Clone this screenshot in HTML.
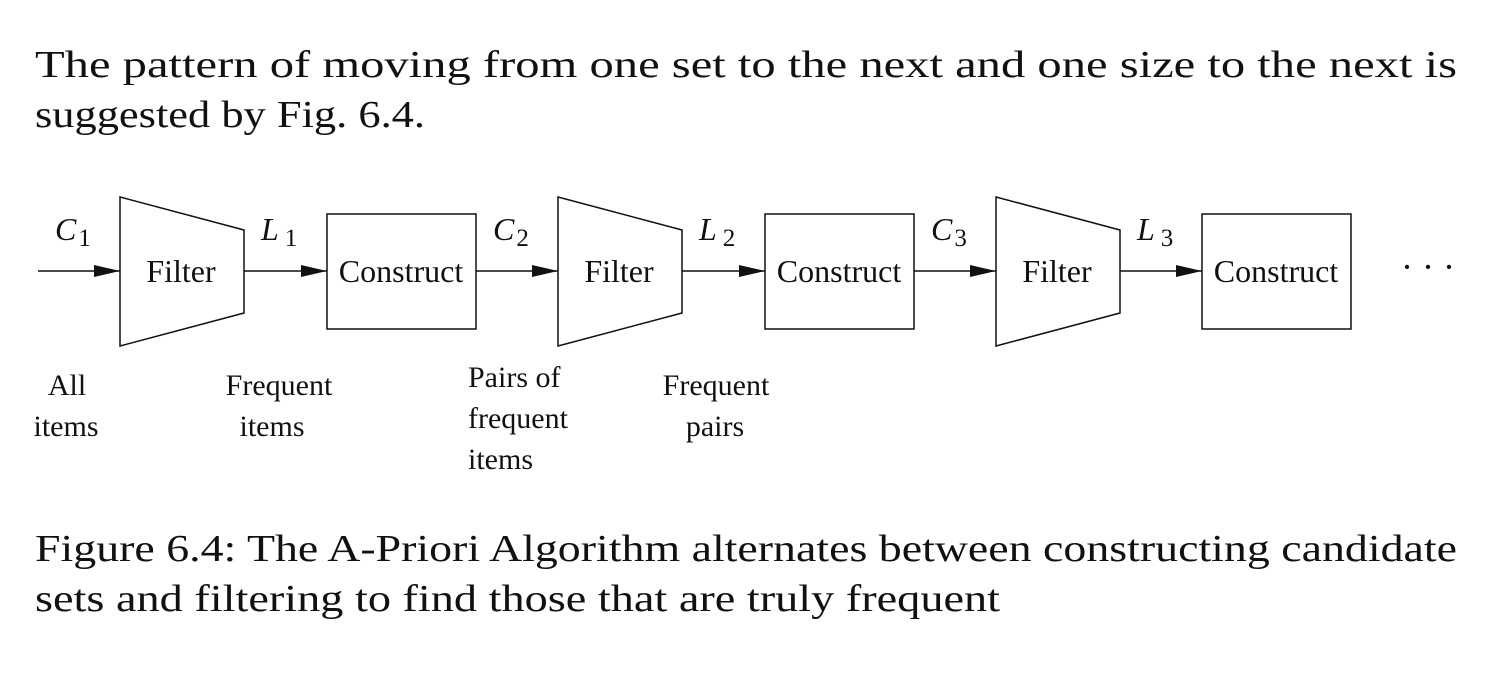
<!DOCTYPE html>
<html><head><meta charset="utf-8"><style>
html,body{margin:0;padding:0;background:#fff;}
svg{display:block;}
.t{font-family:"Liberation Serif",serif;fill:#111;}
</style></head><body>
<svg width="1503" height="682" viewBox="0 0 1503 682">
<defs><marker id="ah" markerWidth="26" markerHeight="12" refX="26" refY="6" orient="auto" markerUnits="userSpaceOnUse"><path d="M0,0 L26,6 L0,12 Z" fill="#111"/></marker></defs>
<text class="t" x="35" y="77" font-size="38" textLength="1422" lengthAdjust="spacingAndGlyphs">The pattern of moving from one set to the next and one size to the next is</text>
<text class="t" x="35" y="127" font-size="38" textLength="390" lengthAdjust="spacingAndGlyphs">suggested by Fig. 6.4.</text>

<g stroke="#111" stroke-width="1.5" fill="none">
<line x1="38" y1="271" x2="120" y2="271" marker-end="url(#ah)"/>
<polygon points="120,197 244,230 244,313 120,346"/>
<line x1="244" y1="271" x2="327" y2="271" marker-end="url(#ah)"/>
<rect x="327" y="214" width="149" height="115"/>
<line x1="476" y1="271" x2="558" y2="271" marker-end="url(#ah)"/>
<polygon points="558,197 682,230 682,313 558,346"/>
<line x1="682" y1="271" x2="765" y2="271" marker-end="url(#ah)"/>
<rect x="765" y="214" width="149" height="115"/>
<line x1="914" y1="271" x2="996" y2="271" marker-end="url(#ah)"/>
<polygon points="996,197 1120,230 1120,313 996,346"/>
<line x1="1120" y1="271" x2="1202" y2="271" marker-end="url(#ah)"/>
<rect x="1202" y="214" width="149" height="115"/>
</g>

<g class="t" font-size="32" text-anchor="middle">
<text x="181" y="282">Filter</text>
<text x="401" y="282">Construct</text>
<text x="619" y="282">Filter</text>
<text x="839" y="282">Construct</text>
<text x="1057" y="282">Filter</text>
<text x="1276" y="282">Construct</text>
<text x="1428" y="279" font-size="36">· · ·</text>
</g>

<g class="t" font-size="32">
<text x="55" y="240"><tspan font-style="italic">C</tspan><tspan font-size="25" dx="2" dy="6">1</tspan></text>
<text x="261" y="240"><tspan font-style="italic">L</tspan><tspan font-size="25" dx="6" dy="6">1</tspan></text>
<text x="493" y="240"><tspan font-style="italic">C</tspan><tspan font-size="25" dx="2" dy="6">2</tspan></text>
<text x="699" y="240"><tspan font-style="italic">L</tspan><tspan font-size="25" dx="6" dy="6">2</tspan></text>
<text x="931" y="240"><tspan font-style="italic">C</tspan><tspan font-size="25" dx="2" dy="6">3</tspan></text>
<text x="1137" y="240"><tspan font-style="italic">L</tspan><tspan font-size="25" dx="6" dy="6">3</tspan></text>
</g>

<g class="t" font-size="30" text-anchor="middle">
<text x="67" y="395">All</text>
<text x="66" y="436">items</text>
<text x="279" y="395">Frequent</text>
<text x="272" y="436">items</text>
<text x="716" y="395">Frequent</text>
<text x="715" y="436">pairs</text>
</g>
<g class="t" font-size="30">
<text x="468" y="387">Pairs of</text>
<text x="468" y="428">frequent</text>
<text x="468" y="469">items</text>
</g>

<text class="t" x="35" y="561" font-size="38" textLength="1422" lengthAdjust="spacingAndGlyphs">Figure 6.4: The A-Priori Algorithm alternates between constructing candidate</text>
<text class="t" x="35" y="611" font-size="38" textLength="965" lengthAdjust="spacingAndGlyphs">sets and filtering to find those that are truly frequent</text>
</svg>
</body></html>
